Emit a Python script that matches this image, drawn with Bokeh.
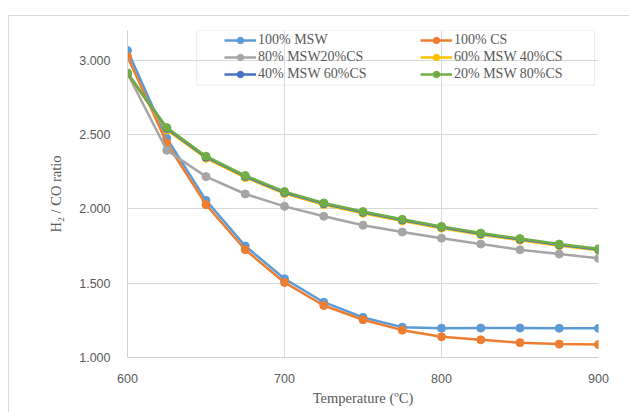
from bokeh.plotting import figure
from bokeh.models import FixedTicker, NumeralTickFormatter, Legend, LegendItem, BoxAnnotation, Range1d
from bokeh.embed import file_html
from bokeh.resources import INLINE

temperature = [600, 625, 650, 675, 700, 725, 750, 775, 800, 825, 850, 875, 900]
msw100 = [3.065, 2.475, 2.057, 1.750, 1.530, 1.372, 1.270, 1.204, 1.197, 1.198, 1.198, 1.197, 1.196]
cs100 = [3.025, 2.443, 2.028, 1.725, 1.505, 1.350, 1.254, 1.184, 1.139, 1.119, 1.100, 1.090, 1.087]
msw80_cs20 = [2.910, 2.394, 2.217, 2.100, 2.017, 1.950, 1.890, 1.844, 1.803, 1.763, 1.725, 1.696, 1.667]
msw60_cs40 = [2.910, 2.530, 2.340, 2.210, 2.103, 2.028, 1.970, 1.918, 1.870, 1.826, 1.789, 1.752, 1.722]
msw40_cs60 = [2.912, 2.540, 2.348, 2.218, 2.110, 2.035, 1.977, 1.925, 1.877, 1.832, 1.795, 1.758, 1.727]
msw20_cs80 = [2.914, 2.547, 2.354, 2.224, 2.116, 2.040, 1.982, 1.930, 1.882, 1.837, 1.800, 1.763, 1.732]

labels = ["100% MSW", "100% CS", "80% MSW20%CS", "60% MSW 40%CS", "40% MSW 60%CS", "20% MSW 80%CS"]
series = [msw100, cs100, msw80_cs20, msw60_cs40, msw40_cs60, msw20_cs80]
colors = ["#5B9BD5", "#ED7D31", "#A5A5A5", "#FFC000", "#4472C4", "#70AD47"]

x_ticks = [600, 700, 800, 900]
y_ticks = [1.0, 1.5, 2.0, 2.5, 3.0]

p = figure(width=621, height=397, output_backend="svg", toolbar_location=None,
           x_range=Range1d(600, 900), y_range=Range1d(1.0, 3.2),
           min_border_left=118, min_border_right=32, min_border_top=14, min_border_bottom=56)
p.margin = (15, 0, 0, 8)
p.styles = {"border-top": "1px solid #d9d9d9", "border-left": "1px solid #d9d9d9"}
p.outline_line_color = None

# axes
for ax in (p.xaxis[0], p.yaxis[0]):
    ax.axis_line_color = "#d0d0d0"
    ax.major_tick_line_color = None
    ax.minor_tick_line_color = None
    ax.major_label_text_font = "Liberation Sans"
    ax.major_label_text_font_size = "12.5px"
    ax.major_label_text_color = "#595959"
    ax.axis_label_text_font = "Liberation Serif"
    ax.axis_label_text_font_size = "14.5px"
    ax.axis_label_text_font_style = "normal"
    ax.axis_label_text_color = "#595959"
p.xaxis.ticker = FixedTicker(ticks=x_ticks)
p.yaxis.ticker = FixedTicker(ticks=y_ticks)
p.yaxis.formatter = NumeralTickFormatter(format="0.000")
p.xaxis.axis_label = "Temperature (ºC)"
p.yaxis.axis_label = "H₂ / CO ratio"
p.xaxis.major_label_standoff = 10
p.yaxis.major_label_standoff = 11
p.xaxis.axis_label_standoff = 4
p.yaxis.axis_label_standoff = 12

p.xgrid.ticker = FixedTicker(ticks=x_ticks)
p.ygrid.ticker = FixedTicker(ticks=y_ticks)
p.xgrid.grid_line_color = "#d9d9d9"
p.ygrid.grid_line_color = "#d9d9d9"

items = []
for lab, ys, c in zip(labels, series, colors):
    r1 = p.line(temperature, ys, line_color=c, line_width=2.5)
    r2 = p.scatter(temperature, ys, size=8, fill_color=c, line_color=c)
    items.append(LegendItem(label=lab, renderers=[r1, r2]))

# legend is filled column by column: reorder so it reads row by row
legend_order = [0, 2, 4, 1, 3, 5]

# legend frame
box = BoxAnnotation(left=644, right=897.5, bottom=2.832, top=3.2,
                    fill_alpha=0, line_color="#bfbfbf", line_width=1)
p.add_layout(box)

legend = Legend(items=[items[i] for i in legend_order], ncols=2, location=(97, 275), padding=0, margin=0,
                spacing=1, glyph_width=32, glyph_height=16, label_height=16,
                label_width=161, label_standoff=2,
                label_text_font="Liberation Serif", label_text_font_size="14px",
                label_text_color="#595959", border_line_alpha=0, background_fill_alpha=0)
p.add_layout(legend)

open("out.html", "w").write(file_html(p, INLINE))
